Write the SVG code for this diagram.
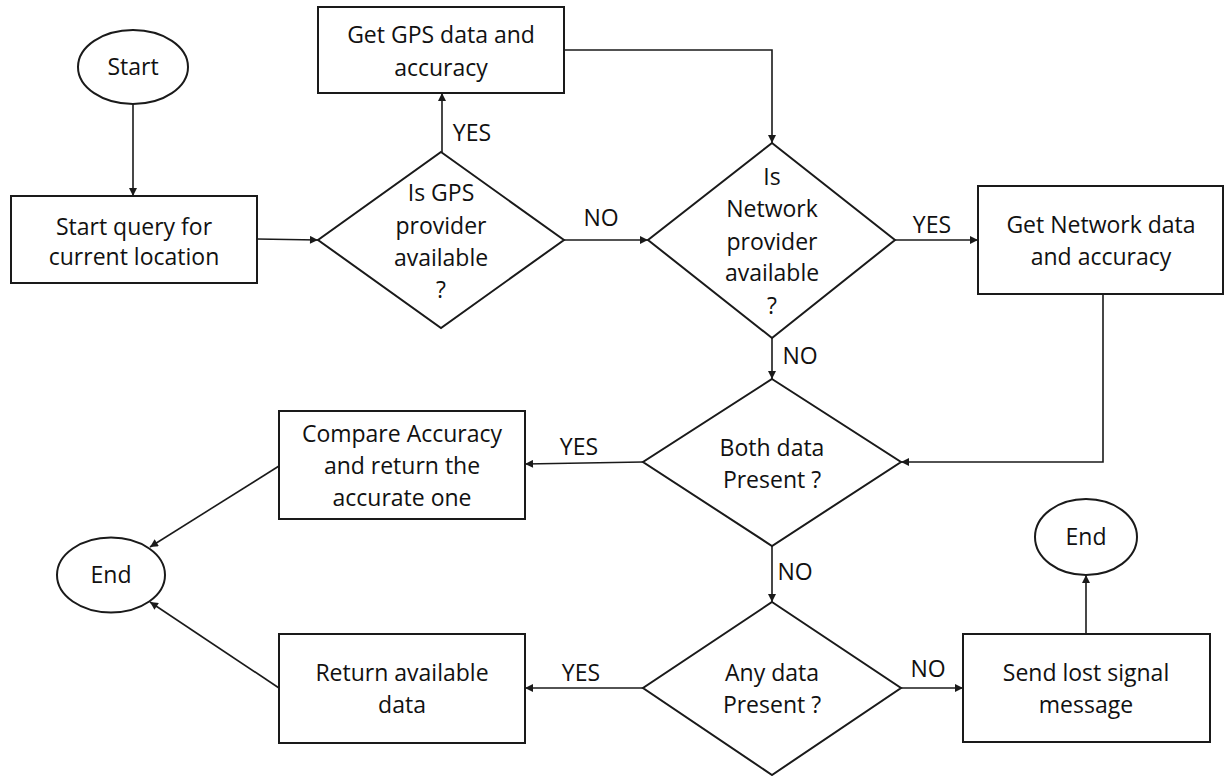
<svg xmlns="http://www.w3.org/2000/svg" width="1225" height="776" viewBox="0 0 1225 776">
  <style>
    .shape { fill: #ffffff; stroke: #1a1a1a; stroke-width: 2; }
    .link { fill: none; stroke: #1a1a1a; stroke-width: 1.6; marker-end: url(#arrow); }
    text { font-family: "Open Sans", "Noto Sans", "Liberation Sans", sans-serif; font-size: 23px; fill: #111111; text-anchor: middle; }
  </style>
  <defs>
    <marker id="arrow" viewBox="0 0 10 10" refX="10" refY="5" markerWidth="9" markerHeight="8" markerUnits="userSpaceOnUse" orient="auto">
      <path d="M0,0 L10,5 L0,10 z" fill="#1a1a1a"/>
    </marker>
  </defs>
  <rect width="1225" height="776" fill="#ffffff"/>

  <!-- connectors -->
  <g id="connectors">
    <line class="link" x1="133" y1="104" x2="133" y2="196"/>
    <line class="link" x1="257" y1="239" x2="318" y2="240"/>
    <line class="link" x1="442" y1="152" x2="442" y2="93"/>
    <path class="link" d="M564,50 H772 V143"/>
    <line class="link" x1="563" y1="240" x2="648" y2="240"/>
    <line class="link" x1="895" y1="240" x2="978" y2="240"/>
    <line class="link" x1="772" y1="338" x2="772" y2="379"/>
    <path class="link" d="M1103,294 V462 H901"/>
    <line class="link" x1="643" y1="462" x2="525" y2="464"/>
    <line class="link" x1="279" y1="466" x2="150" y2="547"/>
    <line class="link" x1="772" y1="546" x2="772" y2="602"/>
    <line class="link" x1="643" y1="688" x2="525" y2="688"/>
    <line class="link" x1="279" y1="688" x2="150" y2="602"/>
    <line class="link" x1="901" y1="688" x2="963" y2="688"/>
    <line class="link" x1="1086" y1="634" x2="1086" y2="575"/>
  </g>

  <!-- branch labels -->
  <g id="labels">
    <text x="472" y="141">YES</text>
    <text x="601" y="226">NO</text>
    <text x="932" y="233">YES</text>
    <text x="800" y="364">NO</text>
    <text x="579" y="455">YES</text>
    <text x="795" y="580">NO</text>
    <text x="581" y="681">YES</text>
    <text x="928" y="677">NO</text>
  </g>

  <g id="start">
    <ellipse class="shape" cx="133" cy="67" rx="55" ry="37"/>
    <text x="133" y="75">Start</text>
  </g>

  <g id="start-query">
    <rect class="shape" x="11" y="196" width="246" height="87"/>
    <text x="134" y="235">Start query for</text>
    <text x="134" y="265">current location</text>
  </g>

  <g id="gps-available">
    <polygon class="shape" points="441,152 564,240 441,328 318,240"/>
    <text x="441" y="201">Is GPS</text>
    <text x="441" y="234">provider</text>
    <text x="441" y="266">available</text>
    <text x="441" y="298">?</text>
  </g>

  <g id="get-gps">
    <rect class="shape" x="318" y="7" width="246" height="86"/>
    <text x="441" y="43">Get GPS data and</text>
    <text x="441" y="76">accuracy</text>
  </g>

  <g id="network-available">
    <polygon class="shape" points="772,143 895,240 772,338 648,240"/>
    <text x="772" y="185">Is</text>
    <text x="772" y="217">Network</text>
    <text x="772" y="250">provider</text>
    <text x="772" y="281">available</text>
    <text x="772" y="314">?</text>
  </g>

  <g id="get-network">
    <rect class="shape" x="978" y="186" width="245" height="108"/>
    <text x="1101" y="233">Get Network data</text>
    <text x="1101" y="265">and accuracy</text>
  </g>

  <g id="both-present">
    <polygon class="shape" points="772,379 901,462 772,546 643,462"/>
    <text x="772" y="456">Both data</text>
    <text x="772" y="488">Present ?</text>
  </g>

  <g id="compare">
    <rect class="shape" x="279" y="411" width="246" height="108"/>
    <text x="402" y="442">Compare Accuracy</text>
    <text x="402" y="474">and return the</text>
    <text x="402" y="506">accurate one</text>
  </g>

  <g id="end-left">
    <ellipse class="shape" cx="111" cy="575" rx="54" ry="37.5"/>
    <text x="111" y="583">End</text>
  </g>

  <g id="any-present">
    <polygon class="shape" points="772,602 901,688 772,775 643,688"/>
    <text x="772" y="681">Any data</text>
    <text x="772" y="713">Present ?</text>
  </g>

  <g id="return-available">
    <rect class="shape" x="279" y="634" width="246" height="109"/>
    <text x="402" y="681">Return available</text>
    <text x="402" y="713">data</text>
  </g>

  <g id="send-lost">
    <rect class="shape" x="963" y="634" width="247" height="108"/>
    <text x="1086" y="681">Send lost signal</text>
    <text x="1086" y="713">message</text>
  </g>

  <g id="end-right">
    <ellipse class="shape" cx="1086" cy="537" rx="51" ry="38"/>
    <text x="1086" y="545">End</text>
  </g>
</svg>
